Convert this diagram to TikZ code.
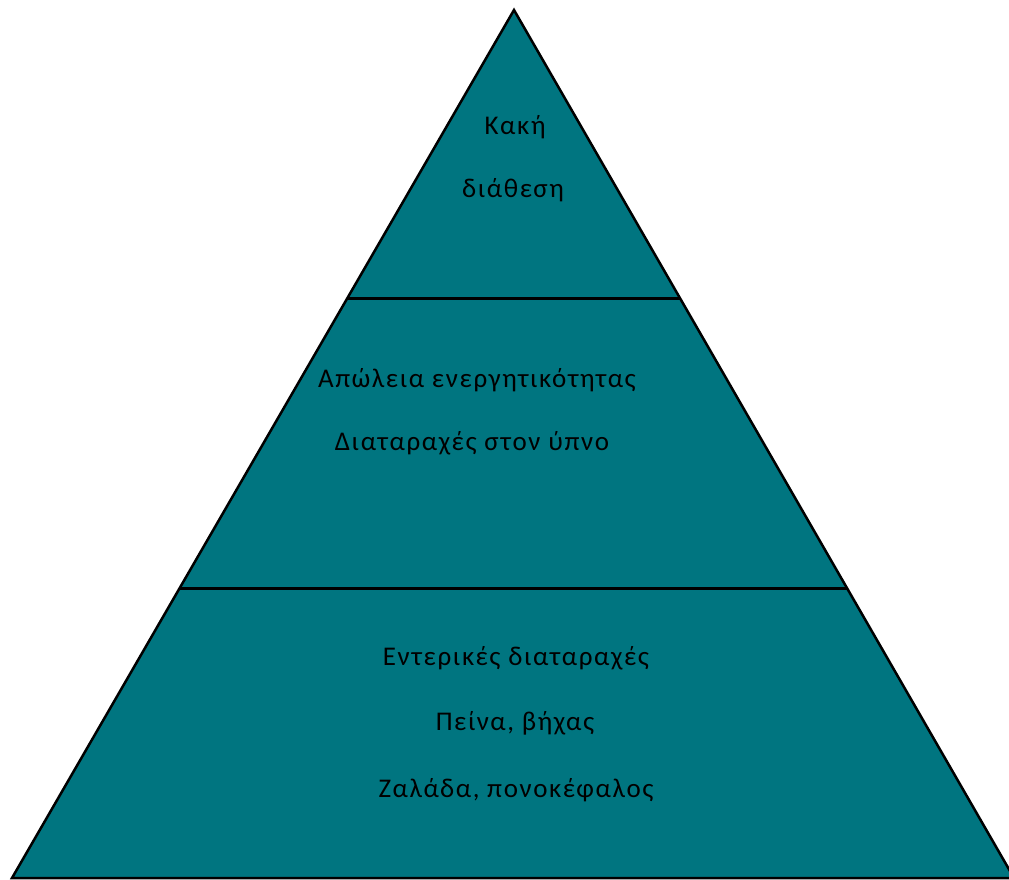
\documentclass[tikz,border=0pt]{standalone}
\usepackage{fontspec}
\setmainfont{Carlito}[LetterSpace=6]
\usetikzlibrary{positioning,calc}
\definecolor{pyrteal}{RGB}{0,117,128}

\begin{document}
\begin{tikzpicture}[
  x=1pt,y=-1pt,
  lvl/.style={font=\fontsize{27}{32}\selectfont,inner sep=0pt,anchor=center},
  edge/.style={draw=black,line width=2.5pt,line join=miter},
  cut/.style={draw=black,line width=3pt},
]
\useasboundingbox (0,0) rectangle (1009,880);

% the pyramid
\coordinate (top)   at (514,10);
\coordinate (left)  at (12,878);
\coordinate (right) at (1014,878);
\fill[pyrteal] (top) -- (left) -- (right) -- cycle;
\draw[edge] (top) -- (left) -- (right) -- cycle;

% the two tiers
\draw[cut] ($(top)!0.3318!(left)$) -- ($(top)!0.3318!(right)$);
\draw[cut] ($(top)!0.667!(left)$)  -- ($(top)!0.667!(right)$);

% top tier
\node[lvl] (mood)  at (515,127) {Κακή};
\node[lvl] (mood2) at (513,190) {διάθεση};

% middle tier
\node[lvl] (energy) at (477,380) {Απώλεια ενεργητικότητας};
\node[lvl] (sleep)  at (472,443) {Διαταραχές στον ύπνο};

% bottom tier
\node[lvl] (gut)   at (516,658) {Εντερικές διαταραχές};
\node[lvl] (cough) at (515,723) {Πείνα, βήχας};
\node[lvl] (head)  at (516,790) {Ζαλάδα, πονοκέφαλος};

\end{tikzpicture}
\end{document}
